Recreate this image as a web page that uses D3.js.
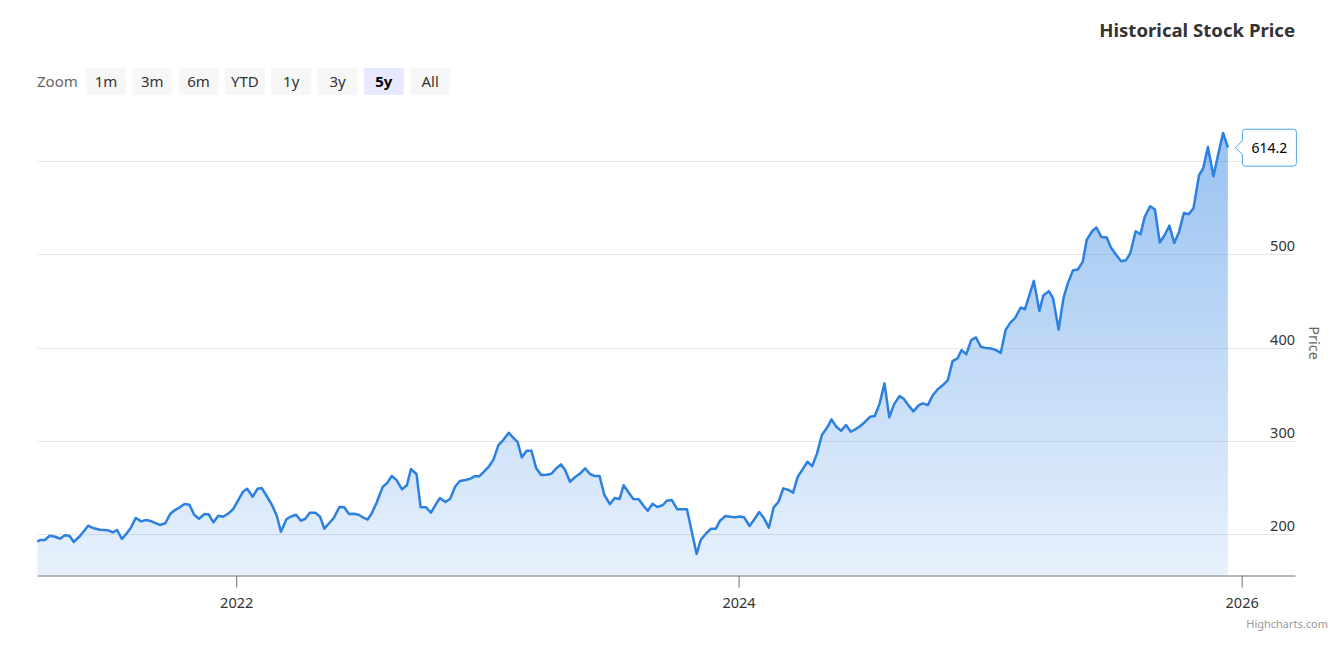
<!DOCTYPE html>
<html>
<head>
<meta charset="utf-8">
<script src="https://cdn.jsdelivr.net/npm/d3@7"></script>
<style>
  body { margin: 0; background: #fff; }
  svg { display: block; font-family: "Noto Sans", "Open Sans", sans-serif; }
</style>
</head>
<body>
<div id="chart"></div>
<script>
// weekly closes, as day offsets from the first point
const startDate = Date.UTC(2021, 2, 18);
const dayOffsets = [
  0, 4, 11, 18, 26, 33, 40, 47, 53, 62, 74, 81, 91, 103, 110, 116, 123, 130, 136, 143,
  151, 158, 166, 178, 186, 193, 200, 207, 214, 221, 228, 235, 243, 249, 256, 263, 270, 278, 285, 292,
  299, 305, 313, 320, 326, 333, 341, 348, 354, 362, 368, 376, 383, 389, 396, 404, 411, 417, 424, 431,
  439, 446, 453, 460, 467, 474, 480, 486, 493, 502, 508, 515, 522, 530, 537, 543, 551, 557, 565, 572,
  579, 585, 593, 600, 607, 614, 622, 629, 635, 642, 648, 656, 663, 670, 677, 685, 691, 698, 704, 711,
  718, 725, 732, 740, 747, 754, 761, 767, 774, 782, 789, 796, 803, 810, 817, 824, 832, 839, 846, 852,
  859, 866, 874, 880, 887, 894, 901, 909, 915, 922, 930, 937, 944, 951, 958, 964, 972, 979, 986, 992,
  1000, 1007, 1014, 1021, 1027, 1035, 1042, 1049, 1056, 1063, 1070, 1077, 1084, 1092, 1098, 1105, 1113, 1119, 1126, 1133,
  1140, 1148, 1154, 1161, 1168, 1175, 1182, 1189, 1196, 1203, 1210, 1217, 1224, 1231, 1238, 1245, 1253, 1259, 1266, 1273,
  1281, 1287, 1294, 1301, 1308, 1316, 1323, 1330, 1337, 1343, 1350, 1357, 1364, 1371, 1379, 1386, 1393, 1400, 1407, 1414,
  1421, 1429, 1435, 1442, 1448, 1456, 1462, 1470, 1476, 1484, 1491, 1497, 1505, 1512, 1519, 1525, 1533, 1539, 1546, 1554,
  1560, 1568, 1575, 1582, 1588, 1596, 1603, 1609, 1617, 1624, 1631, 1638, 1645, 1652, 1659, 1666, 1673, 1680, 1688, 1694,
  1701, 1709, 1715, 1723, 1730
];
const prices = [
  192.1, 193.9, 193.9, 198.5, 197.4, 195.3, 198.9, 198.2, 191.8, 198.2, 209.2, 206.7, 204.9, 204.3, 202.1, 204.6, 195.0, 201.1, 207.1, 217.5,
  213.9, 215.3, 213.9, 210.0, 211.8, 221.7, 226.0, 228.9, 232.4, 231.7, 221.0, 216.7, 221.7, 221.4, 212.8, 219.9, 218.8, 222.5, 227.4, 236.7,
  245.6, 248.8, 240.3, 248.8, 249.6, 241.3, 231.4, 219.9, 202.8, 216.1, 218.8, 221.0, 214.6, 216.4, 223.1, 223.1, 218.8, 206.0, 211.8, 217.8,
  229.2, 228.9, 221.7, 222.0, 221.0, 217.8, 215.8, 222.5, 233.8, 251.0, 254.6, 262.4, 258.1, 248.2, 252.5, 269.9, 264.6, 228.9, 228.9, 223.1,
  232.1, 238.9, 234.6, 238.1, 251.0, 257.1, 258.1, 259.5, 262.1, 262.1, 266.4, 272.4, 280.3, 295.6, 301.0, 308.8, 303.9, 298.8, 282.4, 289.5,
  289.5, 270.7, 263.5, 263.8, 264.9, 270.7, 274.9, 268.8, 256.3, 261.7, 265.3, 270.7, 264.6, 262.4, 262.4, 242.1, 232.4, 238.9, 237.8, 252.5,
  245.0, 237.8, 237.5, 231.4, 225.3, 232.8, 229.2, 231.4, 236.0, 236.7, 226.8, 226.8, 226.8, 202.8, 178.9, 193.9, 201.1, 206.0, 206.0, 214.6,
  219.6, 218.8, 218.2, 219.0, 218.2, 208.9, 216.1, 223.9, 217.1, 207.1, 228.9, 234.9, 249.2, 247.4, 244.5, 261.7, 270.7, 277.7, 273.1, 286.7,
  306.3, 314.6, 323.1, 315.2, 310.9, 317.0, 309.9, 312.7, 316.0, 320.6, 325.9, 326.7, 340.3, 361.7, 325.3, 339.5, 348.1, 345.2, 338.1, 331.7,
  338.4, 340.3, 338.4, 348.8, 355.2, 359.9, 365.2, 385.5, 388.4, 397.3, 393.0, 408.0, 410.9, 400.9, 399.5, 399.1, 397.3, 394.4, 419.0, 426.8,
  432.0, 443.0, 440.9, 457.3, 471.5, 439.4, 456.2, 460.5, 452.7, 419.5, 452.7, 468.0, 483.0, 483.7, 491.9, 515.8, 525.0, 528.7, 518.6, 518.0,
  507.3, 499.0, 492.6, 493.7, 500.9, 524.7, 521.5, 540.0, 551.5, 548.0, 512.6, 520.4, 530.8, 512.2, 524.0, 544.3, 542.9, 549.4, 584.7, 591.9,
  615.0, 583.6, 604.3, 630.0, 614.2
];
const gridValues = [200, 300, 400, 500, 600];
// the 600 label sits under the last-price label, so it is not shown
const yLabelValues = [200, 300, 400, 500];
const xTickYears = [2022, 2024, 2026];
const zoomButtons = ["1m", "3m", "6m", "YTD", "1y", "3y", "5y", "All"];
const selectedZoom = "5y";
const chartTitle = "Historical Stock Price";
const yAxisTitle = "Price";

const width = 1337;
const height = 647;
const plotLeft = 37.3;
const plotRight = 1295;
const plotTop = 110;
const plotBottom = 575;

const lineColor = '#2b80e2';

const data = prices.map(function(p, i) {
  return {date: new Date(startDate + dayOffsets[i] * 864e5), value: p};
});

const x = d3.scaleUtc()
  .domain([new Date(Date.UTC(2021, 2, 18)), new Date(Date.UTC(2026, 2, 19, 12))])
  .range([plotLeft, plotRight]);

const y = d3.scaleLinear()
  .domain([156.4, 654.6])
  .range([plotBottom, plotTop]);

const svg = d3.select('#chart')
  .append('svg')
  .attr('width', width)
  .attr('height', height);

const defs = svg.append('defs');
const grad = defs.append('linearGradient')
  .attr('id', 'areaFill')
  .attr('x1', 0).attr('y1', 0).attr('x2', 0).attr('y2', 1);
grad.append('stop').attr('offset', '0%').attr('stop-color', lineColor).attr('stop-opacity', 0.48);
grad.append('stop').attr('offset', '100%').attr('stop-color', lineColor).attr('stop-opacity', 0.11);

// title
svg.append('text')
  .attr('x', 1295)
  .attr('y', 37)
  .attr('text-anchor', 'end')
  .attr('font-size', '18.6px')
  .attr('font-weight', 'bold')
  .attr('fill', '#333')
  .text(chartTitle);

// range selector
svg.append('text')
  .attr('x', 37)
  .attr('y', 87)
  .attr('font-size', '15px')
  .attr('fill', '#666')
  .text('Zoom');

const btn = svg.selectAll('.btn')
  .data(zoomButtons)
  .enter()
  .append('g')
  .attr('class', 'btn')
  .attr('transform', function(d, i) { return 'translate(' + (86 + i * 46.3) + ',68)'; });

btn.append('rect')
  .attr('width', 40)
  .attr('height', 27)
  .attr('rx', 2)
  .attr('fill', function(d) { return d === selectedZoom ? '#e6e9ff' : '#f7f7f7'; });

btn.append('text')
  .attr('x', 20)
  .attr('y', 19)
  .attr('text-anchor', 'middle')
  .attr('font-size', '15px')
  .attr('font-weight', function(d) { return d === selectedZoom ? 'bold' : 'normal'; })
  .attr('fill', function(d) { return d === selectedZoom ? '#000' : '#333'; })
  .text(function(d) { return d; });

// gridlines and y labels
const yAxis = svg.append('g').attr('class', 'y-axis');
yAxis.selectAll('line')
  .data(gridValues)
  .enter()
  .append('line')
  .attr('x1', plotLeft)
  .attr('x2', plotRight)
  .attr('y1', function(d) { return Math.round(y(d)) + 0.5; })
  .attr('y2', function(d) { return Math.round(y(d)) + 0.5; })
  .attr('stroke', '#e6e6e6');

yAxis.selectAll('text')
  .data(yLabelValues)
  .enter()
  .append('text')
  .attr('x', plotRight)
  .attr('y', function(d) { return y(d) - 3; })
  .attr('text-anchor', 'end')
  .attr('font-size', '14.5px')
  .attr('fill', '#333')
  .text(function(d) { return d; });

svg.append('text')
  .attr('transform', 'translate(1309,343) rotate(90)')
  .attr('text-anchor', 'middle')
  .attr('font-size', '14.5px')
  .attr('fill', '#666')
  .text(yAxisTitle);

// area + line
const area = d3.area()
  .x(function(d) { return x(d.date); })
  .y0(plotBottom)
  .y1(function(d) { return y(d.value); });

const line = d3.line()
  .x(function(d) { return x(d.date); })
  .y(function(d) { return y(d.value); });

svg.append('path')
  .datum(data)
  .attr('d', area)
  .attr('fill', 'url(#areaFill)');

svg.append('path')
  .datum(data)
  .attr('d', line)
  .attr('fill', 'none')
  .attr('stroke', lineColor)
  .attr('stroke-width', 2.5)
  .attr('stroke-linejoin', 'round');

// x axis
const xAxis = d3.axisBottom(x)
  .tickValues(xTickYears.map(function(yr) { return new Date(Date.UTC(yr, 0, 1)); }))
  .tickFormat(d3.utcFormat('%Y'))
  .tickSize(12)
  .tickSizeOuter(0)
  .tickPadding(10);

const xg = svg.append('g')
  .attr('transform', 'translate(0,' + (plotBottom + 0.5) + ')')
  .call(xAxis);
xg.select('.domain').attr('stroke', '#707070');
xg.selectAll('.tick line').attr('stroke', '#707070');
xg.selectAll('.tick text')
  .attr('font-size', '14.5px')
  .attr('font-family', '"Noto Sans", sans-serif')
  .attr('fill', '#333');

// last price label
const last = data[data.length - 1];
const lx = x(last.date) + 7;
const ly = y(last.value);
const tip = svg.append('g').attr('transform', 'translate(' + lx + ',' + ly + ')');
tip.append('path')
  .attr('d', 'M0.5,0 L7.5,-7 L7.5,-15.5 Q7.5,-18.5 10.5,-18.5 L58.5,-18.5 Q61.5,-18.5 61.5,-15.5 L61.5,15.5 Q61.5,18.5 58.5,18.5 L10.5,18.5 Q7.5,18.5 7.5,15.5 L7.5,7 Z')
  .attr('fill', '#fff')
  .attr('stroke', '#4aa8f2')
  .attr('stroke-width', 1);
tip.append('text')
  .attr('x', 34.5)
  .attr('y', 5)
  .attr('text-anchor', 'middle')
  .attr('font-size', '14px')
  .attr('fill', '#000')
  .text(d3.format('.1f')(last.value));

// credits
svg.append('text')
  .attr('x', 1328)
  .attr('y', 628)
  .attr('text-anchor', 'end')
  .attr('font-size', '11px')
  .attr('fill', '#999')
  .text('Highcharts.com');
</script>
</body>
</html>
